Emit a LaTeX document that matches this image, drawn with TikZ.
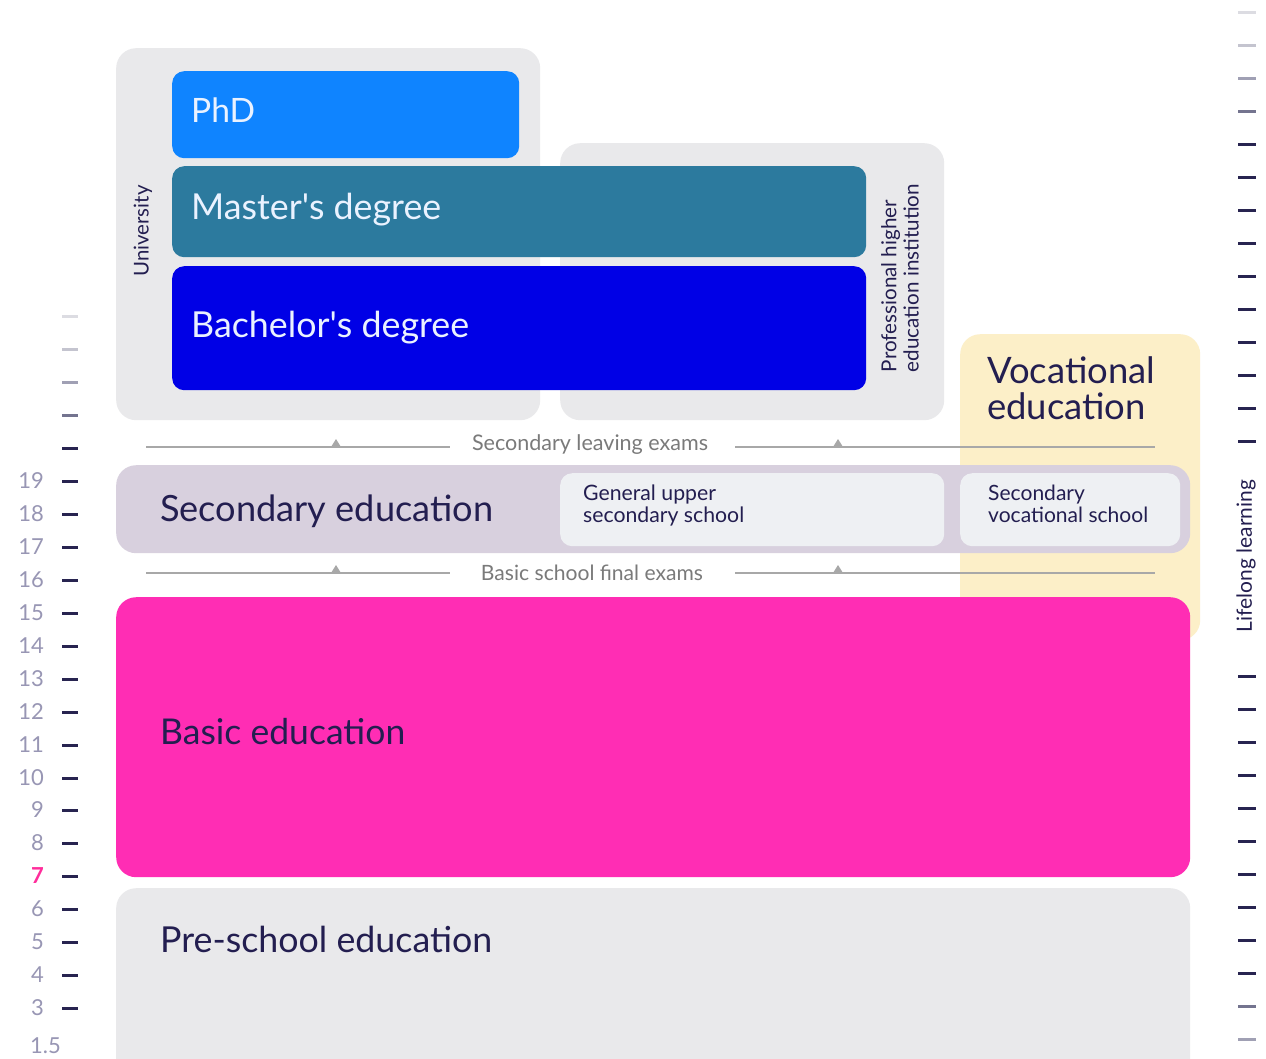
\documentclass[tikz,border=0pt]{standalone}
\usepackage{fontspec}
\setmainfont{Lato}
\usepackage{graphicx}
\definecolor{boxgray}{HTML}{E9E9EB}
\definecolor{phdc}{HTML}{0F84FF}
\definecolor{mastc}{HTML}{2C7A9E}
\definecolor{bachc}{HTML}{0000E6}
\definecolor{lavc}{HTML}{D8D0DE}
\definecolor{innerc}{HTML}{EEF0F3}
\definecolor{yelc}{HTML}{FCEFC8}
\definecolor{magc}{HTML}{FF2DB4}
\definecolor{navy}{HTML}{231E50}
\definecolor{lighttxt}{HTML}{EAF2FF}
\definecolor{examc}{HTML}{A8A8A8}
\definecolor{examtxt}{HTML}{7A7A7A}
\definecolor{axistxt}{HTML}{9896B4}
\definecolor{sevenc}{HTML}{FF2D9B}
\definecolor{tickc}{HTML}{282450}
\definecolor{tfa}{HTML}{DCDCE2}
\definecolor{tfb}{HTML}{C4C4CF}
\definecolor{tfc}{HTML}{A0A0B4}
\definecolor{tfd}{HTML}{74748F}
\newcommand\fitw[2]{\resizebox{#1pt}{!}{#2}}
\newcommand\fitml[3]{\resizebox{#1pt}{!}{\fontsize{10}{#2}\selectfont\begin{tabular}{@{}l@{}}#3\end{tabular}}}
\begin{document}
\begin{tikzpicture}[x=1pt,y=-1pt,
  blk/.style={rectangle, draw=none, inner sep=0pt, anchor=north west},
  bigbox/.style={blk, rounded corners=20pt},
  smallbox/.style={blk, rounded corners=12pt},
  lbl/.style={inner sep=0pt, anchor=west, text=navy},
  wlbl/.style={inner sep=0pt, anchor=west, text=lighttxt},
  examline/.style={draw=examc, line width=1.5pt},
  examlbl/.style={inner sep=0pt, text=examtxt},
  tickl/.style={line width=3pt},
  axlbl/.style={inner sep=0pt, anchor=east, text=axistxt, font=\fontsize{22}{22}\selectfont}
]
\useasboundingbox (0,0) rectangle (1266,1058);
\fill[white] (0,0) rectangle (1266,1058);

% higher education containers
\node[bigbox, fill=boxgray, minimum width=424pt, minimum height=372pt] (uni) at (116,48) {};
\node[bigbox, fill=boxgray, minimum width=384pt, minimum height=277pt] (prof) at (560,143) {};
\node[smallbox, fill=phdc, minimum width=347pt, minimum height=87pt] (phd) at (172,71) {};
\node[smallbox, fill=mastc, minimum width=694pt, minimum height=91pt] (mast) at (172,166) {};
\node[smallbox, fill=bachc, minimum width=694pt, minimum height=124pt] (bach) at (172,266) {};
\node[wlbl] (phdl) at (191,110) {\fitw{64}{PhD}};
\node[wlbl] (mastl) at (191,210) {\fitw{250}{Master\textquotesingle s degree}};
\node[wlbl] (bachl) at (191,328) {\fitw{278}{Bachelor\textquotesingle s degree}};
\node[inner sep=0pt, rotate=90, text=navy] (unil) at (143,231) {\fitw{91}{University}};
\node[inner sep=0pt, rotate=90, text=navy] (profl) at (903,278) {\fitml{188}{10.8}{Professional higher\\education institution}};

% vocational education
\node[bigbox, fill=yelc, minimum width=240pt, minimum height=306pt] (voc) at (960,334) {};
\node[inner sep=0pt, anchor=north west, text=navy] (vocl) at (987,356) {\fitml{168}{9.2}{Vocational\\education}};

% exam lines
\coordinate (e1a) at (146,447); \coordinate (e1b) at (450,447);
\coordinate (e1c) at (735,447); \coordinate (e1d) at (1155,447);
\coordinate (e2a) at (146,573); \coordinate (e2b) at (450,573);
\coordinate (e2c) at (735,573); \coordinate (e2d) at (1155,573);
\draw[examline] (e1a) -- (e1b);
\draw[examline] (e1c) -- (e1d);
\draw[examline] (e2a) -- (e2b);
\draw[examline] (e2c) -- (e2d);
\foreach \tx/\ty in {336/447, 838/447, 336/573, 838/573}
  \fill[examc] (\tx-5,\ty) -- (\tx+5,\ty) -- (\tx,\ty-8) -- cycle;
\node[examlbl] (ex1) at (590,445) {\fitw{236}{Secondary leaving exams}};
\node[examlbl] (ex2) at (592,573) {\fitw{222}{Basic school final exams}};

% secondary education
\node[bigbox, fill=lavc, minimum width=1074pt, minimum height=88pt] (sec) at (116,465) {};
\node[smallbox, fill=innerc, minimum width=384pt, minimum height=73pt] (gen) at (560,473) {};
\node[smallbox, fill=innerc, minimum width=220pt, minimum height=73pt] (svs) at (960,473) {};
\node[lbl] (secl) at (160,511) {\fitw{333}{Secondary education}};
\node[lbl] (genl) at (583,507) {\fitml{161}{9.6}{General upper\\secondary school}};
\node[lbl] (svsl) at (988,507) {\fitml{160}{9.6}{Secondary\\vocational school}};

% basic and pre-school
\node[bigbox, fill=magc, minimum width=1074pt, minimum height=280pt] (basic) at (116,597) {};
\node[lbl] (basicl) at (160,732) {\fitw{245}{Basic education}};
\node[bigbox, fill=boxgray, minimum width=1074pt, minimum height=200pt] (pre) at (116,888) {};
\node[lbl] (prel) at (160,939) {\fitw{332}{Pre-school education}};

% left age axis
\foreach \y/\c in {316/tfa, 349/tfb, 382/tfc, 415/tfd}
  \draw[tickl, draw=\c] (62,\y) -- (78,\y);
\foreach \y in {448,481,514,547,580,613,646,679,712,745,778,810,843,876,909,942,975,1008}
  \draw[tickl, draw=tickc] (62,\y) -- (78,\y);
\foreach \n/\y in {19/481, 18/514, 17/547, 16/580, 15/613, 14/646, 13/679, 12/712, 11/745, 10/778, 9/810, 8/843, 6/909, 5/942, 4/975, 3/1008}
  \node[axlbl] (ax\n) at (44,\y) {\n};
\node[axlbl, text=sevenc, font=\fontsize{22}{22}\selectfont\bfseries] (ax7) at (44,876) {7};
\node[axlbl, anchor=west] (ax15) at (30,1046) {1.5};

% right lifelong axis
\foreach \y/\c in {12/tfa, 45/tfb, 78/tfc, 111/tfd}
  \draw[tickl, draw=\c] (1238,\y) -- (1256,\y);
\foreach \y in {144,177,210,243,276,309,342,375,408,441}
  \draw[tickl, draw=tickc] (1238,\y) -- (1256,\y);
\foreach \y in {676,709,742,775,808,841,874,907,940,973}
  \draw[tickl, draw=tickc] (1238,\y) -- (1256,\y);
\draw[tickl, draw=tfd] (1238,1006) -- (1256,1006);
\draw[tickl, draw=tfc] (1238,1039) -- (1256,1039);
\node[inner sep=0pt, rotate=90, text=navy] (lifel) at (1246,556) {\fitw{152}{Lifelong learning}};
\end{tikzpicture}
\end{document}
